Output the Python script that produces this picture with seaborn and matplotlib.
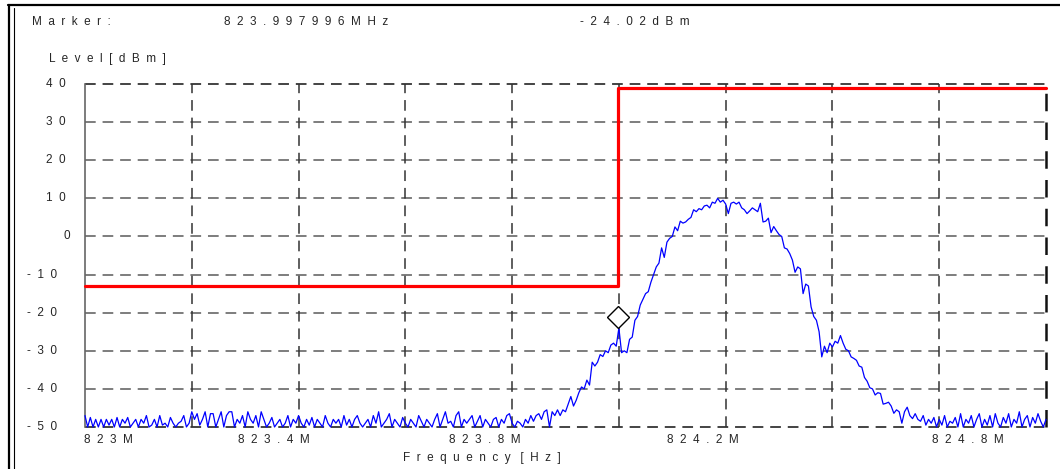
import numpy as np
import pandas as pd
import matplotlib
matplotlib.use("Agg")
import matplotlib.pyplot as plt
import matplotlib.transforms as mtransforms
from matplotlib.lines import Line2D
import seaborn as sns

# ---------------- data ----------------
sweep_start = 823.0      # MHz
sweep_stop = 824.8       # MHz
level_dbm = [
    -47, -50, -47.5, -50, -48, -50, -48, -50, -48, -49.5, -48, -50, -47.5, -50, -48, -49, -47.5, -50, -49, -48,
    -50, -48, -49, -47, -50, -49.5, -48, -50, -47, -49.5, -49, -50, -47.5, -49, -50, -49, -48.5, -47, -50, -49,
    -46, -48, -46.5, -49.5, -48, -46, -50, -46.5, -46.5, -50, -48, -46, -50, -47, -46, -46, -50, -48, -49, -47,
    -50, -46, -48, -49, -47, -50, -46, -48, -50, -49, -47.5, -50, -49, -48, -50, -49, -47, -50, -48, -49,
    -47, -49, -50, -48, -49.5, -47.5, -50, -48, -49, -50, -47, -49, -50, -48, -49, -48, -50, -47, -49.5, -48,
    -50, -48, -47, -49, -50, -49, -48, -50, -47, -49, -46, -50, -49, -48, -46.5, -50, -48, -49, -50, -47.5,
    -49, -50, -48, -49, -50, -47, -48.5, -50, -48, -49, -50, -48, -46.5, -50, -48, -46, -49, -48.5, -50, -47,
    -46, -50, -48, -49, -48, -47, -50, -48.5, -47, -50, -48, -49, -50, -48, -47.5, -50, -48, -49, -47, -46.5,
    -49, -50, -48.5, -49, -50, -48, -49, -47, -48.5, -47, -46.5, -48, -46, -45.5, -50, -46, -47, -45.5, -47, -45.5,
    -46, -44, -42, -44.5, -43, -41, -39.5, -40, -37.7, -39, -33, -34, -33, -31, -31.5, -30, -30.5, -28.5, -28, -28.8,
    -24.02, -30.5, -30, -30.5, -27, -26.4, -22, -21, -18, -16.5, -15, -14.5, -12, -10, -8, -7, -3, -5.5, -1.5, -0.5,
    0, 2.5, 1.5, 4, 3.5, 3.8, 4.5, 5, 7, 6.5, 7.3, 7, 8, 8.2, 7.5, 9, 8.7, 10, 9, 9.5,
    8.5, 6, 8.7, 9, 8.5, 9, 7.5, 7, 6, 6.7, 7.5, 7, 6.5, 8.7, 3.8, 4, 4.8, 1, 2.6, 1.5,
    0.5, 0, -3, -3.3, -4.5, -6.2, -9.4, -8, -8.5, -15, -12.5, -13, -18.5, -21, -22, -25, -31.6, -28.8, -30.5, -28,
    -29, -27.5, -28, -26, -28, -29.6, -30, -31.6, -32, -32.5, -34, -34.3, -37, -38, -39.7, -40, -41.6, -41, -41.2, -44,
    -43.8, -43.5, -44.5, -46.4, -45.5, -46, -49, -46, -44.8, -47, -47.8, -46.5, -48, -48.5, -47, -49.5, -48, -49, -47.5, -50,
    -48, -49.5, -47, -50, -48.5, -49, -47.5, -50, -46.5, -50, -48, -49, -47, -50, -48, -46.5, -50, -48, -49.5, -47,
    -50, -46.5, -49, -50, -47.5, -49, -46.5, -50, -48, -49, -46, -50, -48, -47, -50, -47.5, -49, -46.5, -48.5, -50,
    -48,
]
limit_freq = [823.0, 823.998, 823.998, 824.8]
limit_level = [-13, -13, 39, 39]
marker_freq = 823.997996
marker_level = -24.02
y_ticks = [40, 30, 20, 10, 0, -10, -20, -30, -40, -50]
x_grid = [823.0, 823.2, 823.4, 823.6, 823.8, 824.0, 824.2, 824.4, 824.6, 824.8]
x_tick_labels = ["823M", "823.4M", "823.8M", "824.2M", "824.8M"]
x_tick_label_pos = [823.043, 823.354, 823.749, 824.157, 824.654]

freq = np.linspace(sweep_start, sweep_stop, len(level_dbm))
trace = pd.DataFrame({"freq": freq, "level": level_dbm})
limit = pd.DataFrame({"freq": limit_freq, "level": limit_level})


def spread(s):
    return "  ".join(list(s))


# ---------------- style ----------------
sns.set_style("white")
plt.rcParams["font.family"] = ["Liberation Sans", "DejaVu Sans"]
FS = 8.5

W, H = 1060, 469
fig = plt.figure(figsize=(W / 100, H / 100), dpi=100)
ax = fig.add_axes([85 / W, 1 - 427 / H, (1046 - 85) / W, (427 - 84) / H])
ax.set_facecolor("white")

ax.set_xlim(sweep_start, sweep_stop)
ax.set_ylim(-50, 40)

dash = (0, (7, 4.5))
# grid lines
for yv in y_ticks:
    col = "#111111" if yv in (40, -50) else "#5a5a5a"
    ax.axhline(yv, color=col, lw=1.1, ls=dash, zorder=1, clip_on=False)
for xv in x_grid[1:]:
    col = "#111111" if xv == x_grid[-1] else "#333333"
    lw = 1.8 if xv == x_grid[-1] else 1.1
    ax.axvline(xv, color=col, lw=lw, ls=dash, zorder=1, clip_on=False)

for sp in ["top", "right", "bottom"]:
    ax.spines[sp].set_visible(False)
ax.spines["left"].set_color("#666666")
ax.spines["left"].set_linewidth(1.2)

# trace
sns.lineplot(data=trace, x="freq", y="level", estimator=None, sort=False,
             color="#0000ff", lw=0.9, ax=ax, zorder=3, clip_on=False)
# limit line
sns.lineplot(data=limit, x="freq", y="level", estimator=None, sort=False,
             color="#ff0000", lw=2.3, ax=ax, zorder=4, clip_on=False)

# marker diamond (bottom vertex sits on the marker point)
off = mtransforms.ScaledTranslation(0, 0.105, fig.dpi_scale_trans)
ax.plot([marker_freq], [marker_level], marker="D", ms=11.5, mfc="white",
        mec="black", mew=1.0, ls="none", transform=ax.transData + off,
        zorder=5, clip_on=False)

# ticks
ax.set_xticks(x_grid)
ax.set_xticklabels([])
ax.set_xticks(x_tick_label_pos, [spread(s) for s in x_tick_labels], minor=True)
ax.tick_params(axis="x", which="both", length=0, pad=5, labelsize=FS)
ax.set_yticks([])
ax.set_xlabel("")
ax.set_ylabel("")

ylab_tr = mtransforms.blended_transform_factory(ax.transAxes, ax.transData)
for yv in y_ticks:
    if yv > 0:
        px = 66
    elif yv == 0:
        px = 70
    else:
        px = 57
    ax.text((px - 85) / (1046 - 85), yv, spread(str(yv)), transform=ylab_tr,
            ha="right", va="center", fontsize=FS)

# header texts
fig.text(32 / W, 1 - 22 / H, spread("Marker:"), ha="left", va="center", fontsize=FS)
fig.text(224 / W, 1 - 22 / H, spread(f"{marker_freq:.6f}") + "  " + spread("MHz"),
         ha="left", va="center", fontsize=FS)
fig.text(580 / W, 1 - 22 / H, spread(f"{marker_level:.2f}") + "  " + spread("dBm"),
         ha="left", va="center", fontsize=FS)
fig.text(49 / W, 1 - 59 / H, spread("Level[dBm]"), ha="left", va="center", fontsize=FS)
fig.text(482 / W, 1 - 458 / H, spread("Frequency") + "   " + spread("[Hz]"),
         ha="center", va="center", fontsize=FS)

# outer frame
fig.add_artist(Line2D([8 / W, 1], [1 - 5 / H, 1 - 5 / H], color="black", lw=1.6,
                      transform=fig.transFigure))
fig.add_artist(Line2D([9 / W, 9 / W], [0, 1 - 5 / H], color="black", lw=1.6,
                      transform=fig.transFigure))
fig.add_artist(Line2D([13.5 / W, 13.5 / W], [0, 1 - 8 / H], color="black", lw=0.8,
                      transform=fig.transFigure))

fig.savefig("out.png", dpi=100, facecolor="white")
